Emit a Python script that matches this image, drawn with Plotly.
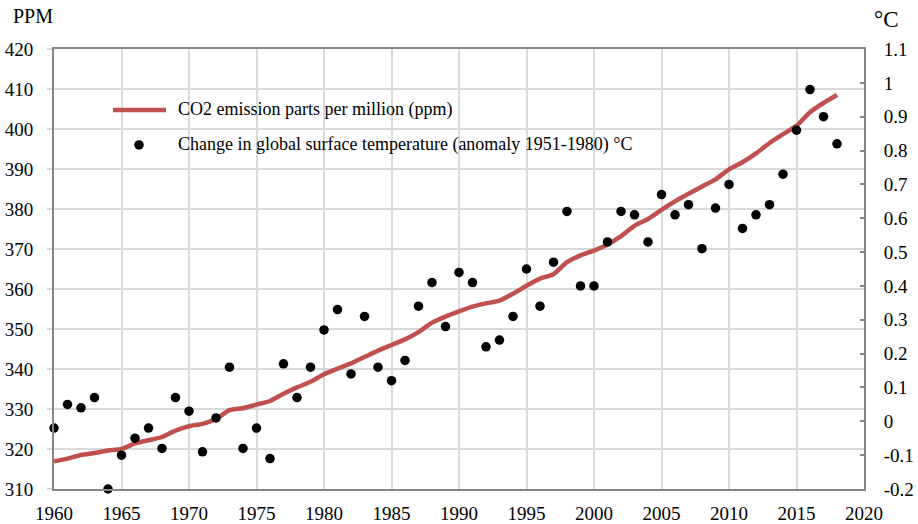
import plotly.graph_objects as go

# Years covered by both series
years = list(range(1960, 2019))

# Atmospheric CO2, annual mean (ppm)
co2_ppm = [
    316.9, 317.6, 318.5, 319.0, 319.6, 320.0, 321.4, 322.2, 323.0, 324.6,
    325.7, 326.3, 327.5, 329.7, 330.2, 331.1, 332.0, 333.8, 335.4, 336.8,
    338.7, 340.1, 341.4, 343.0, 344.6, 346.0, 347.4, 349.2, 351.6, 353.1,
    354.4, 355.6, 356.4, 357.1, 358.8, 360.8, 362.6, 363.7, 366.7, 368.4,
    369.6, 371.1, 373.2, 375.8, 377.5, 379.8, 381.9, 383.8, 385.6, 387.4,
    389.9, 391.7, 393.9, 396.5, 398.7, 400.8, 404.2, 406.5, 408.5,
]

# Global surface temperature anomaly vs. 1951-1980 (°C)
temp_anomaly = [
    -0.02, 0.05, 0.04, 0.07, -0.20, -0.10, -0.05, -0.02, -0.08, 0.07,
    0.03, -0.09, 0.01, 0.16, -0.08, -0.02, -0.11, 0.17, 0.07, 0.16,
    0.27, 0.33, 0.14, 0.31, 0.16, 0.12, 0.18, 0.34, 0.41, 0.28,
    0.44, 0.41, 0.22, 0.24, 0.31, 0.45, 0.34, 0.47, 0.62, 0.40,
    0.40, 0.53, 0.62, 0.61, 0.53, 0.67, 0.61, 0.64, 0.51, 0.63,
    0.70, 0.57, 0.61, 0.64, 0.73, 0.86, 0.98, 0.90, 0.82,
]

# Series labels
co2_name = "CO2 emission parts per million (ppm)"
temp_name = "Change in global surface temperature (anomaly 1951-1980) °C"

# Axis ticks
x_ticks = list(range(1960, 2021, 5))
ppm_ticks = list(range(310, 421, 10))
temp_ticks = [-0.2, -0.1, 0, 0.1, 0.2, 0.3, 0.4, 0.5, 0.6, 0.7, 0.8, 0.9, 1.0, 1.1]
temp_labels = ["-0.2", "-0.1", "0", "0.1", "0.2", "0.3", "0.4", "0.5",
               "0.6", "0.7", "0.8", "0.9", "1", "1.1"]

FONT = "Liberation Serif"
GRID = "#D9D9D9"
AXIS = "#868686"
RED = "#C0504D"

fig = go.Figure()

fig.add_trace(go.Scatter(
    x=years, y=co2_ppm, mode="lines", name=co2_name,
    line=dict(color=RED, width=4.5, shape="spline", smoothing=0.6),
    yaxis="y",
))

fig.add_trace(go.Scatter(
    x=years, y=temp_anomaly, mode="markers", name=temp_name,
    marker=dict(color="black", size=9.5),
    cliponaxis=False, yaxis="y2",
))

# Key drawn inside the plot area, over the grid
key_line_y = 0.8615
key_dot_y = 0.782
key_text_x = 0.1505
shapes = [
    dict(type="line", xref="paper", yref="paper",
         x0=0.0728, x1=0.1383, y0=key_line_y, y1=key_line_y,
         line=dict(color=RED, width=4.5)),
    dict(type="circle", xref="paper", yref="paper",
         xsizemode="pixel", ysizemode="pixel",
         xanchor=0.1049, yanchor=key_dot_y,
         x0=-4.75, x1=4.75, y0=-4.75, y1=4.75,
         fillcolor="black", line=dict(width=0)),
]

annotations = [
    dict(text=co2_name, xref="paper", yref="paper", x=key_text_x, y=key_line_y,
         xanchor="left", yanchor="middle", showarrow=False,
         font=dict(family=FONT, size=18)),
    dict(text=temp_name, xref="paper", yref="paper", x=key_text_x, y=key_dot_y,
         xanchor="left", yanchor="middle", showarrow=False,
         font=dict(family=FONT, size=18)),
    dict(text="PPM", xref="paper", yref="paper", x=-0.0535, y=1.0,
         xanchor="left", yanchor="middle", yshift=33, showarrow=False,
         font=dict(family=FONT, size=20)),
    dict(text="°C", xref="paper", yref="paper", x=1.0095, y=1.0,
         xanchor="left", yanchor="middle", yshift=30, showarrow=False,
         font=dict(family=FONT, size=23)),
]

fig.update_layout(
    width=918, height=524,
    margin=dict(l=54, r=54, t=49, b=35, autoexpand=False),
    paper_bgcolor="white", plot_bgcolor="white",
    font=dict(family=FONT, size=19, color="black"),
    showlegend=False,
    shapes=shapes,
    annotations=annotations,
    xaxis=dict(
        range=[1960, 2020], tickvals=x_ticks, ticktext=[str(v) for v in x_ticks],
        showgrid=True, gridcolor=GRID, gridwidth=1.5,
        showline=True, linecolor=AXIS, linewidth=2, mirror=True,
        ticks="", zeroline=False, ticklabelstandoff=6, automargin=False,
    ),
    yaxis=dict(
        range=[310, 420], tickvals=ppm_ticks, ticktext=[str(v) for v in ppm_ticks],
        showgrid=True, gridcolor=GRID, gridwidth=1.5,
        showline=True, linecolor=AXIS, linewidth=2,
        ticks="outside", ticklen=5, tickcolor=GRID, tickwidth=1.5,
        zeroline=False, ticklabelstandoff=10, automargin=False,
    ),
    yaxis2=dict(
        range=[-0.2, 1.1], tickvals=temp_ticks, ticktext=temp_labels,
        overlaying="y", side="right", showgrid=False,
        showline=True, linecolor=AXIS, linewidth=2,
        ticks="inside", ticklen=4, tickcolor=AXIS, tickwidth=1.5,
        zeroline=False, ticklabelstandoff=14, automargin=False,
    ),
)

fig.write_html("out.html")
